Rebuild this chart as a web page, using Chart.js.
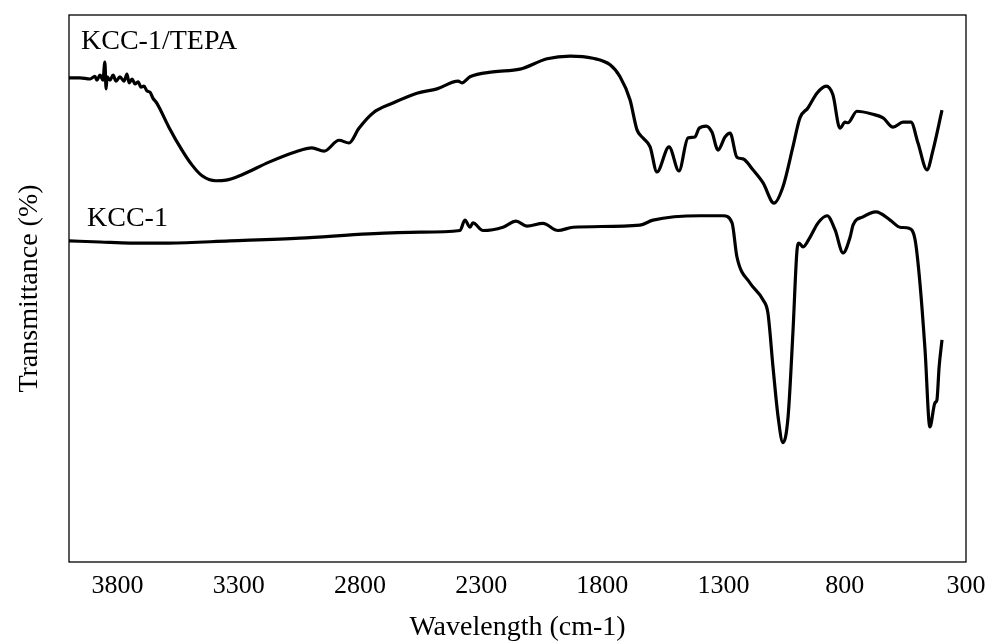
<!DOCTYPE html>
<html>
<head>
<meta charset="utf-8">
<title>FTIR spectra</title>
<script src="https://cdn.jsdelivr.net/npm/chart.js@4.4.1/dist/chart.umd.min.js"></script>
<style>
  body { margin: 0; background: #fff; }
  canvas { display: block; }
</style>
</head>
<body>
<canvas id="ftirChart" width="990" height="644"></canvas>
<script>
// x axis ticks (wavenumber, reversed axis)
const xTicks = [3800, 3300, 2800, 2300, 1800, 1300, 800, 300];

// KCC-1/TEPA spectrum
const tepaWave = [4000, 3955, 3913, 3893, 3885, 3872, 3860, 3852, 3847, 3843, 3831, 3818, 3806, 3790,
    3773, 3761, 3752, 3740, 3728, 3715, 3703, 3691, 3678, 3666, 3654, 3641, 3629, 3588, 3534, 3493,
    3451, 3394, 3352, 3286, 3175, 3064, 2998, 2948, 2886, 2845, 2804, 2746, 2664, 2565, 2482, 2395,
    2379, 2346, 2251, 2140, 2028, 1933, 1839, 1768, 1727, 1686, 1657, 1632, 1603, 1575, 1525, 1484,
    1447, 1418, 1401, 1372, 1348, 1323, 1294, 1273, 1245, 1220, 1179, 1137, 1092, 1055, 1014, 985,
    952, 915, 877, 849, 820, 799, 787, 750, 688, 642, 601, 560, 527, 498, 461, 436, 399];
const tepaValues = [88.5, 88.5, 88.3, 88.8, 88.1, 89.0, 88.1, 91.4, 86.5, 88.7, 88.1, 89.0, 87.9, 88.7,
    87.9, 89.2, 87.6, 88.3, 87.4, 87.8, 86.8, 87.0, 86.1, 85.9, 84.8, 84.1, 83.2, 79.5, 75.3, 72.6,
    70.6, 69.7, 69.8, 70.8, 73.1, 75.0, 75.7, 75.1, 77.1, 76.6, 79.3, 82.1, 83.9, 85.7, 86.5, 87.9,
    87.6, 88.7, 89.6, 90.1, 92.0, 92.5, 92.1, 90.9, 88.7, 84.5, 79.0, 77.5, 75.9, 71.3, 75.9, 71.5,
    77.5, 77.7, 79.3, 79.7, 78.6, 75.3, 77.7, 78.4, 74.0, 73.7, 71.7, 69.3, 65.6, 68.6, 75.9, 81.2,
    83.0, 85.7, 87.0, 85.4, 79.3, 80.4, 80.3, 82.4, 81.9, 81.2, 79.5, 80.4, 80.4, 76.6, 71.7, 75.3, 82.6];

// KCC-1 spectrum
const kccWave = [4000, 3872, 3748, 3588, 3336, 3047, 2763, 2552, 2387, 2367, 2346, 2334, 2292, 2210,
    2156, 2111, 2045, 1983, 1921, 1645, 1591, 1397, 1302, 1265, 1245, 1191, 1137, 1117, 1096, 1075,
    1055, 1034, 1014, 997, 989, 972, 943, 910, 873, 840, 807, 778, 766, 725, 671, 613, 572, 535,
    510, 490, 469, 449, 428, 420, 411, 399];
const kccValues = [58.7, 58.5, 58.3, 58.3, 58.7, 59.2, 60.0, 60.3, 60.6, 62.5, 61.2, 62.0, 60.6, 61.2,
    62.3, 61.4, 61.9, 60.6, 61.2, 61.6, 62.5, 63.3, 63.3, 62.0, 55.8, 51.0, 47.9, 45.5, 35.6, 26.5,
    21.8, 26.5, 41.9, 57.0, 58.3, 57.6, 59.4, 62.0, 63.3, 60.7, 56.5, 59.4, 61.6, 63.1, 64.0, 62.5,
    61.2, 61.0, 58.9, 51.0, 38.8, 24.7, 29.1, 29.6, 35.6, 40.6];

const seriesLabels = ['KCC-1/TEPA', 'KCC-1'];

function toPoints(xs, ys) {
    return xs.map((x, i) => ({ x: x, y: ys[i] }));
}

const serif = "'Liberation Serif', 'Times New Roman', serif";

// Frame around the plot area and the in-plot series labels
const framePlugin = {
    id: 'frame',
    afterDraw(chart) {
        const ctx = chart.ctx;
        const a = chart.chartArea;
        ctx.save();
        ctx.strokeStyle = '#000';
        ctx.lineWidth = 1.3;
        ctx.strokeRect(a.left, a.top, a.right - a.left, a.bottom - a.top);

        ctx.fillStyle = '#000';
        ctx.font = "28px " + serif;
        ctx.textBaseline = 'middle';
        ctx.textAlign = 'left';
        ctx.fillText(seriesLabels[0], a.left + 12, a.top + 27);
        ctx.fillText(seriesLabels[1], a.left + 18, a.top + 204);
        ctx.restore();
    }
};

const ctx = document.getElementById('ftirChart').getContext('2d');
new Chart(ctx, {
    type: 'line',
    data: {
        datasets: [
            {
                label: seriesLabels[0],
                data: toPoints(tepaWave, tepaValues),
                borderColor: '#000',
                borderWidth: 3.2,
                pointRadius: 0,
                cubicInterpolationMode: 'monotone'
            },
            {
                label: seriesLabels[1],
                data: toPoints(kccWave, kccValues),
                borderColor: '#000',
                borderWidth: 3.2,
                pointRadius: 0,
                cubicInterpolationMode: 'monotone'
            }
        ]
    },
    options: {
        responsive: false,
        animation: false,
        devicePixelRatio: 1,
        layout: { padding: { left: 0, top: 15, right: 24, bottom: 0 } },
        plugins: {
            legend: { display: false },
            tooltip: { enabled: false }
        },
        scales: {
            x: {
                type: 'linear',
                reverse: true,
                min: 300,
                max: 4000,
                grid: { display: false, drawTicks: false },
                border: { display: false },
                afterBuildTicks: scale => {
                    scale.ticks = xTicks.map(v => ({ value: v }));
                },
                afterFit: scale => {
                    scale.height = 82;
                    // let the last label hang past the frame like the original
                    scale.paddingLeft = 0;
                    scale.paddingRight = 0;
                },
                ticks: {
                    color: '#000',
                    padding: 9,
                    maxRotation: 0,
                    autoSkip: false,
                    font: { family: serif, size: 26 },
                    callback: v => String(v)
                },
                title: {
                    display: true,
                    text: 'Wavelength (cm-1)',
                    color: '#000',
                    font: { family: serif, size: 28 },
                    padding: { top: 0, bottom: 0 }
                }
            },
            y: {
                min: 0,
                max: 100,
                grid: { display: false, drawTicks: false },
                border: { display: false },
                ticks: { display: false },
                afterFit: scale => { scale.width = 69; },
                title: {
                    display: true,
                    text: 'Transmittance (%)',
                    color: '#000',
                    font: { family: serif, size: 28 },
                    padding: { top: 13, bottom: 0 }
                }
            }
        }
    },
    plugins: [framePlugin]
});
</script>
</body>
</html>
